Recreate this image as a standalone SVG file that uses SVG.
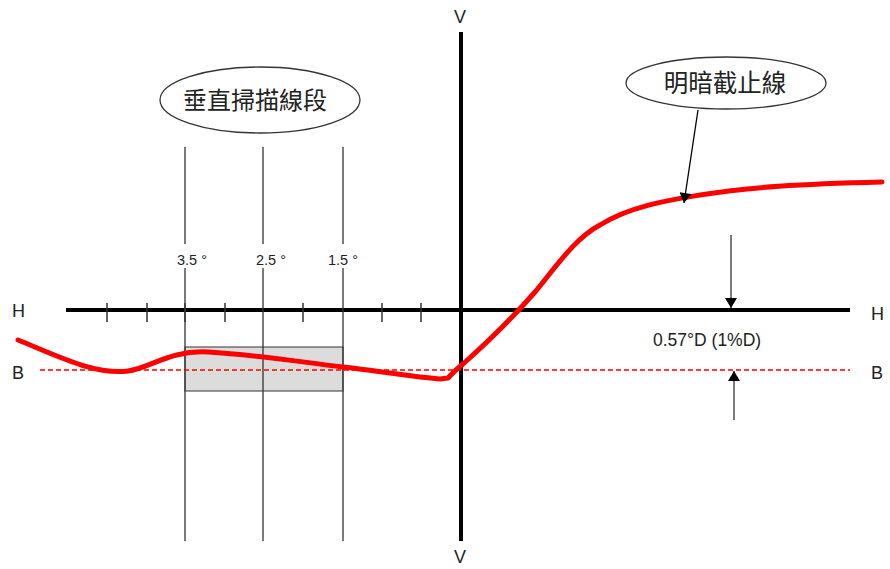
<svg xmlns="http://www.w3.org/2000/svg" width="890" height="569" viewBox="0 0 890 569">
<defs>
<style>
.lbl{font-family:"Liberation Sans",Arial,sans-serif;fill:#222}
.cjk{font-family:"Liberation Sans","Noto Sans CJK TC",sans-serif;fill:#222}
.thin{stroke:#333;stroke-width:1.3;fill:none}
</style>
<marker id="ah" viewBox="0 0 10 12" refX="10" refY="6" markerWidth="12" markerHeight="12" markerUnits="userSpaceOnUse" orient="auto">
<path d="M0,0 L10,6 L0,12 z" fill="#000"/>
</marker>
</defs>
<rect width="890" height="569" fill="#fff"/>
<g id="scan-box">
<rect x="185" y="347" width="158" height="44" fill="#dcdcdc" stroke="#333" stroke-width="1"/>
</g>
<g id="axes">
<line x1="461" y1="32" x2="461" y2="541" stroke="#000" stroke-width="4"/>
<line x1="66" y1="310" x2="850" y2="310" stroke="#000" stroke-width="4"/>
<g stroke="#333" stroke-width="1.5">
<line x1="107" y1="303" x2="107" y2="322"/>
<line x1="147" y1="303" x2="147" y2="322"/>
<line x1="185" y1="303" x2="185" y2="322"/>
<line x1="225" y1="303" x2="225" y2="322"/>
<line x1="303" y1="303" x2="303" y2="322"/>
<line x1="382" y1="303" x2="382" y2="322"/>
<line x1="421" y1="303" x2="421" y2="322"/>
</g>
<text class="lbl" x="454" y="23" font-size="18">V</text>
<text class="lbl" x="454" y="563" font-size="18">V</text>
<text class="lbl" x="12" y="317" font-size="18">H</text>
<text class="lbl" x="871" y="320" font-size="18">H</text>
<text class="lbl" x="12" y="379" font-size="18">B</text>
<text class="lbl" x="871" y="379" font-size="18">B</text>
</g>
<g id="scan-lines">
<line class="thin" x1="185" y1="147" x2="185" y2="244"/>
<line class="thin" x1="263" y1="147" x2="263" y2="244"/>
<line class="thin" x1="343" y1="147" x2="343" y2="244"/>
<line class="thin" x1="185" y1="268" x2="185" y2="541"/>
<line class="thin" x1="263" y1="268" x2="263" y2="541"/>
<line class="thin" x1="343" y1="268" x2="343" y2="541"/>
<text class="lbl" x="177" y="265" font-size="14.5">3.5 °</text>
<text class="lbl" x="256" y="265" font-size="14.5">2.5 °</text>
<text class="lbl" x="328" y="265" font-size="14.5">1.5 °</text>
</g>
<g id="baseline">
<line x1="40" y1="370" x2="850" y2="370" stroke="#f00" stroke-width="1.5" stroke-dasharray="5,3"/>
</g>
<g id="cutoff-line">
<path d="M18,340 C60,357 95,375 128,371 C150,368 170,350 208,352 C260,355 300,362 343,367 C380,371 420,378 440,379 L448,378 C455,370 458,368 463,364 C490,340 515,315 535,292 C555,268 575,238 600,225 C630,206 670,200 700,195 C750,187 800,184 882,182" fill="none" stroke="#f00" stroke-width="5" stroke-linejoin="round" stroke-linecap="round"/>
</g>
<g id="label-scan">
<ellipse cx="260" cy="100" rx="100" ry="33" fill="#fff" stroke="#333" stroke-width="1.3"/>
<text class="cjk" x="255" y="109" font-size="24" text-anchor="middle">垂直掃描線段</text>
</g>
<g id="label-cutoff">
<ellipse cx="726" cy="83" rx="100" ry="26" fill="#fff" stroke="#333" stroke-width="1.3"/>
<text class="cjk" x="725" y="92" font-size="24.5" text-anchor="middle">明暗截止線</text>
</g>
<g id="connectors">
<line x1="698" y1="110" x2="684" y2="203" stroke="#000" stroke-width="1.3" marker-end="url(#ah)"/>
<line x1="731" y1="235" x2="731" y2="308" stroke="#333" stroke-width="1.3" marker-end="url(#ah)"/>
<line x1="734" y1="420" x2="734" y2="371" stroke="#333" stroke-width="1.3" marker-end="url(#ah)"/>
</g>
<g id="dim-label">
<text class="lbl" x="653" y="346" font-size="17.5">0.57°D (1%D)</text>
</g>
</svg>
